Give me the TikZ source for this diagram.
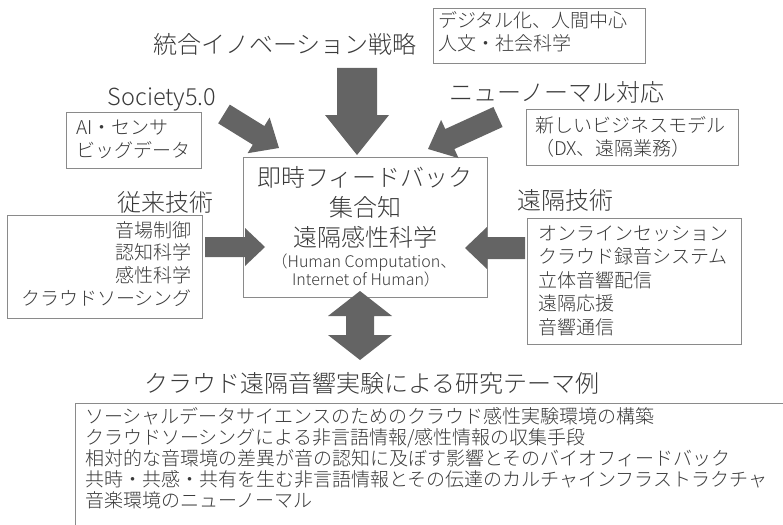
\documentclass[tikz,border=0pt]{standalone}
\usepackage{fontspec}
\setmainfont{Noto Sans CJK JP}[UprightFont={* Light}]
\usetikzlibrary{calc}
\definecolor{txtc}{HTML}{3A3A3A}
\definecolor{arrc}{HTML}{646464}
\definecolor{framec}{HTML}{8A8A8A}

\newcommand\blockarrow[5]{% tail, tip, shaft half, head half, head length
  \path let \p1=(#1), \p2=(#2), \n1={atan2(\y2-\y1,\x2-\x1)}, \n2={veclen(\x2-\x1,\y2-\y1)} in
    \pgfextra{\xdef\baang{\n1}\xdef\balen{\n2}\xdef\bax{\x1}\xdef\bay{\y1}};
  \fill[arrowfill,shift={(\bax,\bay)},rotate=\baang]
    (0pt,{#3*1pt}) -- ({(\balen-#5)*1pt},{#3*1pt}) -- ({(\balen-#5)*1pt},{#4*1pt})
    -- ({\balen*1pt},0pt) -- ({(\balen-#5)*1pt},{-#4*1pt}) -- ({(\balen-#5)*1pt},{-#3*1pt})
    -- (0pt,{-#3*1pt}) -- cycle;
}
\newcommand\dblarrow[5]{% tip A, tip B, shaft half, head half, head length
  \path let \p1=(#1), \p2=(#2), \n1={atan2(\y2-\y1,\x2-\x1)}, \n2={veclen(\x2-\x1,\y2-\y1)} in
    \pgfextra{\xdef\baang{\n1}\xdef\balen{\n2}\xdef\bax{\x1}\xdef\bay{\y1}};
  \fill[arrowfill,shift={(\bax,\bay)},rotate=\baang]
    (0pt,0pt) -- ({#5*1pt},{#4*1pt}) -- ({#5*1pt},{#3*1pt})
    -- ({(\balen-#5)*1pt},{#3*1pt}) -- ({(\balen-#5)*1pt},{#4*1pt})
    -- ({\balen*1pt},0pt)
    -- ({(\balen-#5)*1pt},{-#4*1pt}) -- ({(\balen-#5)*1pt},{-#3*1pt})
    -- ({#5*1pt},{-#3*1pt}) -- ({#5*1pt},{-#4*1pt}) -- cycle;
}

\begin{document}
\begin{tikzpicture}[x=1pt,y=-1pt,
  arrowfill/.style={fill=arrc},
  lab/.style={inner sep=0pt, text=txtc, font=\fontsize{24}{28}\selectfont, anchor=base},
  sm/.style={inner sep=0pt, text=txtc, font=\fontsize{16}{18}\selectfont, anchor=base},
  itm/.style={inner sep=0pt, text=txtc, font=\fontsize{19}{22}\selectfont, anchor=base west},
  itmr/.style={itm, anchor=base east},
  frm/.style={draw=framec, line width=0.9pt, inner sep=0pt, fill=white}]
\useasboundingbox (0,0) rectangle (783,524);
\clip (0,0) rectangle (783,524);

% boxes
\node[frm, minimum width=212pt, minimum height=55pt] (trbox) at (539,35.5) {};
\node[frm, minimum width=135pt, minimum height=56pt] (socbox) at (133.5,140) {};
\node[frm, minimum width=212pt, minimum height=56pt] (bizbox) at (632,137) {};
\node[frm, minimum width=195pt, minimum height=103pt] (leftbox) at (104.5,266.5) {};
\node[frm, minimum width=214pt, minimum height=126pt] (rightbox) at (634,281) {};
\node[frm, minimum width=244pt, minimum height=140pt] (core) at (365,227) {};
\node[frm, minimum width=725pt, minimum height=137pt] (botbox) at (437.5,471.5) {};

% labels
\node[lab] (title) at (285,54) {統合イノベーション戦略};
\node[lab, font=\fontsize{23.5}{28}\selectfont] (soc) at (162,105.5) {Society5.0};
\node[lab] (newn) at (557,102) {ニューノーマル対応};
\node[lab] (conv) at (165,211) {従来技術};
\node[lab] (remote) at (565,209) {遠隔技術};
\node[lab] (theme) at (372,392) {クラウド遠隔音響実験による研究テーマ例};

% box texts
\foreach \t [count=\i] in {デジタル化、人間中心, 人文・社会科学}
  \node[itm] (tr\i) at (438,{28+(\i-1)*23}) {\t};
\foreach \t [count=\i] in {AI・センサ, ビッグデータ}
  \node[itm] (so\i) at (76,{134+(\i-1)*23}) {\t};
\foreach \t [count=\i] in {新しいビジネスモデル, （DX、遠隔業務）}
  \node[itm] (bz\i) at (535,{132+(\i-1)*23}) {\t};
\foreach \t [count=\i] in {音場制御, 認知科学, 感性科学, クラウドソーシング}
  \node[itmr] (lf\i) at (192,{237+(\i-1)*22.7}) {\t};
\foreach \t [count=\i] in {オンラインセッション, クラウド録音システム, 立体音響配信, 遠隔応援, 音響通信}
  \node[itm] (rt\i) at (538,{240+(\i-1)*23.5}) {\t};
\foreach \t [count=\i] in {ソーシャルデータサイエンスのためのクラウド感性実験環境の構築, クラウドソーシングによる非言語情報/感性情報の収集手段, 相対的な音環境の差異が音の認知に及ぼす影響とそのバイオフィードバック, 共時・共感・共有を生む非言語情報とその伝達のカルチャインフラストラクチャ, 音楽環境のニューノーマル}
  \node[itm] (bt\i) at (85,{423+(\i-1)*21}) {\t};

% core text
\node[lab] (c1) at (365,186) {即時フィードバック};
\node[lab] (c2) at (365,216) {集合知};
\node[lab] (c3) at (365,246) {遠隔感性科学};
\node[sm] (c4) at (364,267) {（Human Computation、};
\node[sm] (c5) at (366,285) {Internet of Human）};

% arrow end points
\coordinate (aTs) at (357,68);  \coordinate (aTe) at (357,155);
\coordinate (aSs) at (224,114); \coordinate (aSe) at (279,148);
\coordinate (aNs) at (498,117); \coordinate (aNe) at (428,149);
\coordinate (aLs) at (205,247); \coordinate (aLe) at (265,247);
\coordinate (aRs) at (525,248); \coordinate (aRe) at (465,248);
\coordinate (aDa) at (360,291); \coordinate (aDb) at (360,360);

\blockarrow{aTs}{aTe}{20}{32}{40}
\blockarrow{aSs}{aSe}{11}{21}{24}
\blockarrow{aNs}{aNe}{11}{21}{24}
\blockarrow{aLs}{aLe}{10}{19}{20}
\blockarrow{aRs}{aRe}{11}{21}{22}
\dblarrow{aDa}{aDb}{14}{32}{25}
\end{tikzpicture}
\end{document}
